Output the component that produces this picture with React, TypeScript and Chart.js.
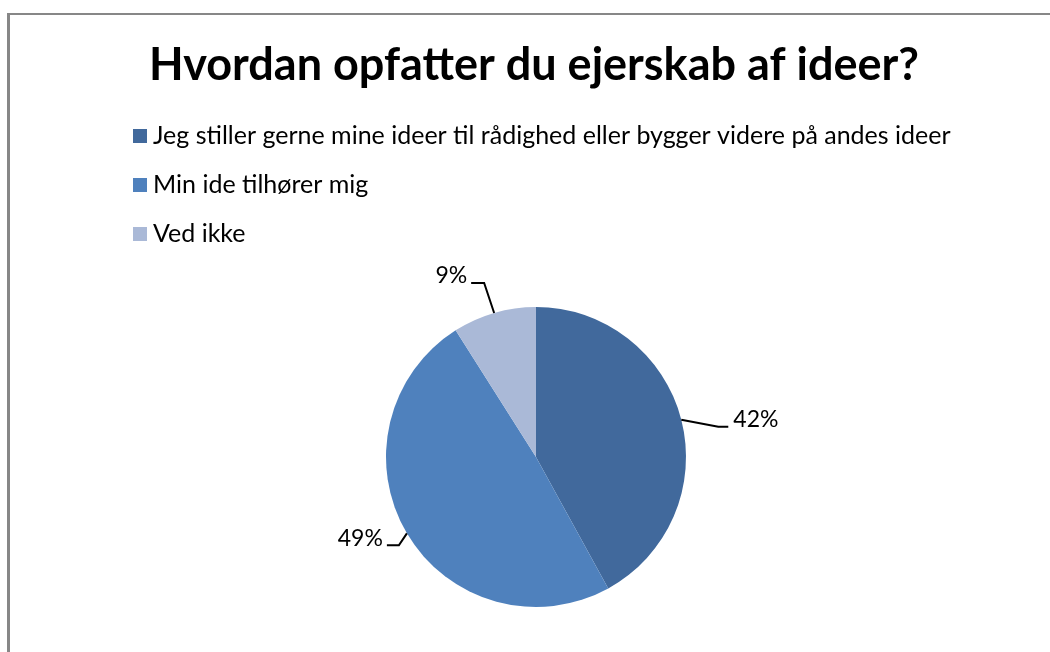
import React, { useEffect, useRef } from "react";
import { Chart, registerables } from "chart.js";

Chart.register(...registerables);

const TITLE = "Hvordan opfatter du ejerskab af ideer?";
const categories = [
  "Jeg stiller gerne mine ideer til rådighed eller bygger videre på andes ideer",
  "Min ide tilhører mig",
  "Ved ikke",
];
const values = [42, 49, 9];
const percentLabels = ["42%", "49%", "9%"];

const COLORS = ["#41699C", "#4F81BD", "#AAB9D7"];
const FONT = "Lato, 'Open Sans', sans-serif";
// leader line styling per slice: bend offset from edge, horizontal run
const LEADERS = [
  { dx: 37, dy: 7, run: 10 },
  { dx: -8, dy: 12, run: -12 },
  { dx: -10, dy: -30, run: -13 },
];

const decorPlugin = {
  id: "decor",
  afterDraw(chart: any) {
    const ctx = chart.ctx as CanvasRenderingContext2D;
    ctx.save();
    // title
    ctx.fillStyle = "#000";
    ctx.font = `bold 45px ${FONT}`;
    ctx.textAlign = "center";
    ctx.textBaseline = "alphabetic";
    ctx.fillText(TITLE, 524, 65);
    // legend
    ctx.font = `25px ${FONT}`;
    ctx.textAlign = "left";
    ctx.textBaseline = "middle";
    const labels = chart.data.labels as string[];
    const bg = chart.data.datasets[0].backgroundColor as string[];
    labels.forEach((lab, i) => {
      const cy = 121 + i * 49;
      ctx.fillStyle = bg[i];
      ctx.fillRect(123, cy - 7, 14, 14);
      ctx.fillStyle = "#000";
      ctx.fillText(lab, 143, cy);
    });
    // data labels with leader lines
    const meta = chart.getDatasetMeta(0);
    ctx.font = `23px ${FONT}`;
    ctx.strokeStyle = "#000";
    ctx.lineWidth = 2;
    meta.data.forEach((arc: any, i: number) => {
      const p = arc.getProps(["x", "y", "startAngle", "endAngle", "outerRadius"], true);
      const mid = (p.startAngle + p.endAngle) / 2;
      const ex = p.x + p.outerRadius * Math.cos(mid);
      const ey = p.y + p.outerRadius * Math.sin(mid);
      const L = LEADERS[i];
      const bx = ex + L.dx;
      const by = ey + L.dy;
      const hx = bx + L.run;
      ctx.beginPath();
      ctx.moveTo(ex, ey);
      ctx.lineTo(bx, by);
      ctx.lineTo(hx, by);
      ctx.stroke();
      ctx.fillStyle = "#000";
      ctx.textBaseline = "middle";
      if (L.run > 0) {
        ctx.textAlign = "left";
        ctx.fillText(percentLabels[i], hx + 5, by - 7);
      } else {
        ctx.textAlign = "right";
        ctx.fillText(percentLabels[i], hx - 4, by - 7);
      }
    });
    ctx.restore();
  },
};

export default function App() {
  const ref = useRef<HTMLCanvasElement | null>(null);
  useEffect(() => {
    if (!ref.current) return;
    const chart = new Chart(ref.current, {
      type: "pie",
      data: {
        labels: categories,
        datasets: [
          {
            data: values,
            backgroundColor: COLORS,
            borderWidth: 0,
          },
        ],
      },
      options: {
        animation: false,
        responsive: false,
        layout: { padding: { top: 292, bottom: 48, left: 0, right: 0 } },
        plugins: {
          legend: { display: false },
          title: { display: false },
          tooltip: { enabled: false },
        },
      },
      plugins: [decorPlugin],
    });
    return () => chart.destroy();
  }, []);
  return (
    <div
      style={{
        position: "fixed",
        left: 0,
        top: 0,
        width: 1050,
        height: 652,
        overflow: "hidden",
        background: "#fff",
      }}
    >
      <div
        style={{
          position: "absolute",
          left: 7,
          top: 13,
          width: 1055,
          height: 660,
          borderLeft: "3px solid #878787",
          borderTop: "2px solid #878787",
          boxSizing: "border-box",
        }}
      />
      <canvas
        ref={ref}
        width={1052}
        height={640}
        style={{ position: "absolute", left: 10, top: 15, width: 1052, height: 640 }}
      />
    </div>
  );
}
